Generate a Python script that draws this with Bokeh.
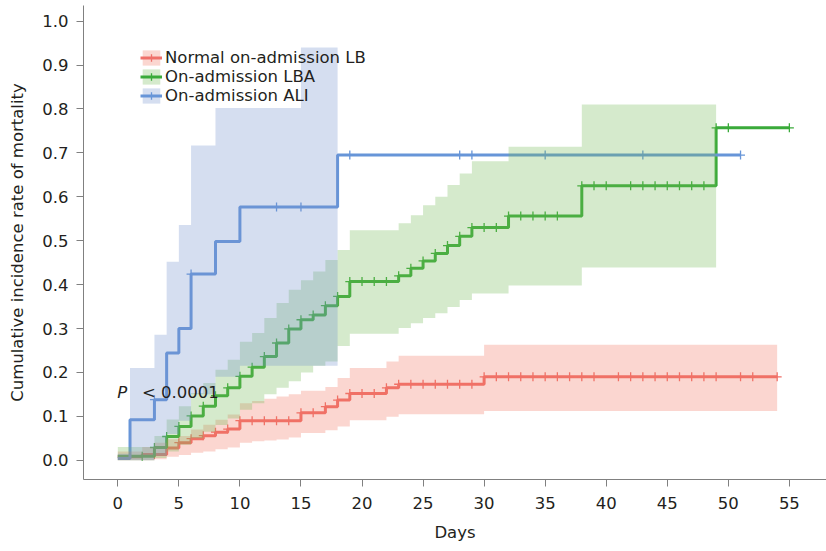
import numpy as np
from bokeh.plotting import figure
from bokeh.models import (Range1d, FixedTicker, Legend, LegendItem, Label, Title)
from bokeh.embed import file_html
from bokeh.resources import INLINE

# ---------------- data ----------------
x_ticks = [0, 5, 10, 15, 20, 25, 30, 35, 40, 45, 50, 55]
y_ticks = [0.0, 0.1, 0.2, 0.3, 0.4, 0.5, 0.6, 0.7, 0.8, 0.9, 1.0]
y_tick_labels = ["0.0", "0.1", "0.2", "0.3", "0.4", "0.5", "0.6", "0.7", "0.8", "0.9", "1.0"]

group_names = ["Normal on-admission LB", "On-admission LBA", "On-admission ALI"]

# Normal on-admission LB (red)
lb_days = [0, 2, 4, 5, 6, 7, 8, 9, 10, 15, 17, 18, 19, 22, 23, 30, 54]
lb_rate = [0.008, 0.013, 0.028, 0.040, 0.049, 0.056, 0.064, 0.071, 0.090, 0.108,
           0.122, 0.137, 0.152, 0.165, 0.173, 0.190, 0.190]
lb_ci_days = [0, 2, 3, 4, 5, 6, 7, 8, 9, 10, 11, 12, 13, 14, 15, 17, 18, 19, 22, 23, 30, 54]
lb_upper = [0.020, 0.030, 0.040, 0.048, 0.055, 0.070, 0.081, 0.092, 0.104, 0.130, 0.135,
            0.140, 0.145, 0.150, 0.158, 0.167, 0.187, 0.210, 0.225, 0.238, 0.263, 0.263]
lb_lower = [0.000, 0.000, 0.002, 0.008, 0.012, 0.017, 0.020, 0.025, 0.029, 0.040, 0.043,
            0.045, 0.047, 0.052, 0.062, 0.068, 0.077, 0.091, 0.099, 0.105, 0.112, 0.112]
lb_censor = [3, 4, 5, 6, 7, 8, 9, 10, 11, 12, 13, 14, 15, 16, 17, 18, 19, 20, 21, 22, 23,
             24, 25, 26, 27, 28, 29, 30, 31, 32, 33, 34, 35, 36, 37, 38, 39, 41, 42, 43,
             44, 45, 46, 47, 48, 49, 51, 52, 54]

# On-admission LBA (green)
lba_days = [0, 3, 4, 5, 6, 7, 8, 9, 10, 11, 12, 13, 14, 15, 16, 17, 18, 19, 23, 24, 25,
            26, 27, 28, 29, 32, 38, 49, 55]
lba_rate = [0.009, 0.029, 0.054, 0.077, 0.101, 0.123, 0.147, 0.165, 0.191, 0.212, 0.236,
            0.267, 0.299, 0.320, 0.331, 0.352, 0.373, 0.407, 0.420, 0.437, 0.454, 0.471,
            0.489, 0.510, 0.530, 0.556, 0.625, 0.757, 0.757]
lba_ci_days = [0, 3, 4, 5, 6, 7, 8, 9, 10, 11, 12, 13, 14, 15, 16, 17, 18, 19, 23, 24, 25,
               26, 27, 28, 29, 32, 38, 49]
lba_upper = [0.030, 0.055, 0.093, 0.123, 0.153, 0.176, 0.206, 0.229, 0.270, 0.290, 0.324,
             0.358, 0.388, 0.410, 0.430, 0.456, 0.479, 0.524, 0.540, 0.558, 0.581, 0.600,
             0.627, 0.653, 0.681, 0.714, 0.810, 0.810]
lba_lower = [0.000, 0.005, 0.020, 0.035, 0.050, 0.065, 0.080, 0.095, 0.115, 0.130, 0.150,
             0.165, 0.180, 0.200, 0.215, 0.225, 0.260, 0.288, 0.301, 0.312, 0.324, 0.335,
             0.349, 0.365, 0.380, 0.398, 0.439, 0.439]
lba_censor = [2, 3, 4, 5, 6, 7, 8, 9, 10, 11, 12, 13, 14, 15, 16, 17, 18, 19, 20, 21, 22,
              23, 24, 25, 26, 27, 28, 29, 30, 31, 32, 33, 34, 35, 36, 38, 39, 40, 42, 43,
              44, 45, 46, 47, 48, 49, 50, 55]

# On-admission ALI (blue)
ali_days = [0, 1, 3, 4, 5, 6, 8, 10, 18, 51]
ali_rate = [0.004, 0.092, 0.138, 0.244, 0.300, 0.424, 0.498, 0.577, 0.695, 0.695]
ali_ci_days = [0, 1, 3, 4, 5, 6, 8, 10, 15, 18]
ali_upper = [0.015, 0.210, 0.286, 0.452, 0.536, 0.717, 0.802, 0.802, 0.940, 0.940]
ali_lower = [0.000, 0.000, 0.010, 0.060, 0.090, 0.150, 0.190, 0.215, 0.215, 0.215]
ali_censor = [3, 6, 13, 15, 19, 28, 29, 35, 43, 51]

# ---------------- styling ----------------
FONT = "DejaVu Sans"
FS = "16.5px"
TXT = "#231f20"
AXC = "#808080"
RED, GREEN, BLUE = "#EF6F68", "#3AAA3A", "#6795D8"
RED_F, GREEN_F, BLUE_F = "#F27662", "#73B955", "#7391CD"
BAND_A = 0.30

p = figure(width=826, height=551, output_backend="svg", toolbar_location=None,
           x_range=Range1d(-2.809, 58.04), y_range=Range1d(-0.0439, 1.0357),
           min_border_left=83, min_border_right=0, min_border_top=5,
           min_border_bottom=71)
p.outline_line_color = None
p.grid.visible = False
p.background_fill_color = "white"
p.border_fill_color = "white"


def step_value(days, rate, t):
    i = np.searchsorted(np.asarray(days), t, side="right") - 1
    return float(rate[i])


series = [
    (lb_days, lb_rate, lb_ci_days, lb_upper, lb_lower, lb_censor, RED, RED_F),
    (lba_days, lba_rate, lba_ci_days, lba_upper, lba_lower, lba_censor, GREEN, GREEN_F),
    (ali_days, ali_rate, ali_ci_days, ali_upper, ali_lower, ali_censor, BLUE, BLUE_F),
]

line_rs = []
for (days, rate, cdays, up, lo, cens, col, fcol) in series:
    lr = p.step(days, rate, mode="after", line_width=3, line_color=col)
    cy = [step_value(days, rate, t) for t in cens]
    cr = p.scatter(cens, cy, marker="cross", size=9, line_color=col, line_width=1.3)
    line_rs.append((lr, cr))

band_rs = []
for (days, rate, cdays, up, lo, cens, col, fcol) in series:
    br = p.varea_step(x=cdays, y1=lo, y2=up, step_mode="after",
                      fill_color=fcol, fill_alpha=BAND_A)
    band_rs.append(br)

legend_items = [LegendItem(label=name, renderers=[br, lr, cr])
                for (lr, cr), br, name in zip(line_rs, band_rs, group_names)]

legend = Legend(items=legend_items, location=(57, 374.5),
                label_text_font=FONT, label_text_font_size=FS, label_text_color=TXT,
                glyph_width=22, glyph_height=19, label_height=19, spacing=0,
                padding=0, margin=0, border_line_color=None, background_fill_alpha=0,
                label_standoff=3)
p.add_layout(legend)

# axes
for ax in (p.xaxis[0], p.yaxis[0]):
    ax.axis_line_color = AXC
    ax.major_tick_line_color = AXC
    ax.minor_tick_line_color = None
    ax.major_tick_out = 7
    ax.major_tick_in = 0
    ax.major_label_text_font = FONT
    ax.major_label_text_font_size = FS
    ax.major_label_text_color = TXT

p.xaxis.ticker = FixedTicker(ticks=x_ticks)
p.xaxis.major_label_standoff = 10
p.yaxis.ticker = FixedTicker(ticks=y_ticks)
p.yaxis.major_label_overrides = {t: s for t, s in zip(y_ticks, y_tick_labels)}
p.yaxis.major_label_standoff = 8
p.yaxis.axis_label = "Cumulative incidence rate of mortality"
p.yaxis.axis_label_text_font = FONT
p.yaxis.axis_label_text_font_size = FS
p.yaxis.axis_label_text_font_style = "normal"
p.yaxis.axis_label_text_color = TXT
p.yaxis.axis_label_standoff = 12

p.add_layout(Title(text="Days", align="center", offset=11.5, standoff=19,
                   text_font=FONT, text_font_size=FS, text_font_style="normal",
                   text_color=TXT), "below")

p.add_layout(Label(x=-0.05, y=0.155, text="P", text_font=FONT, text_font_size=FS,
                   text_font_style="italic", text_color=TXT, text_align="left",
                   text_baseline="middle"))
p.add_layout(Label(x=1.98, y=0.155, text="< 0.0001", text_font=FONT,
                   text_font_size=FS, text_color=TXT, text_align="left",
                   text_baseline="middle"))

open("out.html", "w").write(file_html(p, INLINE))
